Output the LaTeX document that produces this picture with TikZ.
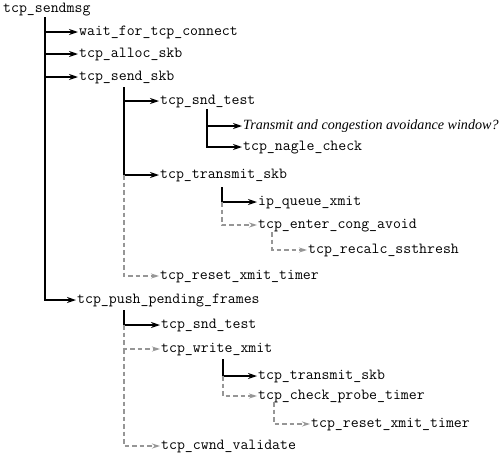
\documentclass[tikz,border=0pt]{standalone}
\usepackage{fontspec}
\newfontfamily\capfont{Liberation Serif}
\usetikzlibrary{arrows.meta}

\tikzset{
  fn/.style={anchor=west, inner sep=1pt, font=\fontsize{15.4}{16}\ttfamily, text height=8pt, text depth=2pt},
  note/.style={anchor=west, inner sep=1pt, font=\fontsize{14.1}{15}\capfont\itshape, text height=8pt, text depth=2pt},
  call/.style={draw=black, line width=1.4pt, -{Stealth[length=9pt,width=6pt]}},
  maycall/.style={draw={rgb,255:red,150;green,150;blue,150}, line width=1.2pt, dash pattern={on 4.5pt off 3pt}, -{Stealth[length=8pt,width=5pt]}},
}

\begin{document}
\begin{tikzpicture}[x=1pt,y=1pt,yscale=-1,xscale=1]
\useasboundingbox (0,0) rectangle (500,456);

% Text Node
\node[fn] (sendmsg) at (2,9) {tcp\_sendmsg};
\node[fn] (wait) at (78,32) {wait\_for\_tcp\_connect};
\node[fn] (alloc) at (78,54) {tcp\_alloc\_skb};
\node[fn] (sendskb) at (78,77) {tcp\_send\_skb};
\node[fn] (sndtest) at (159,101) {tcp\_snd\_test};
\node[note] (window) at (242,126) {Transmit and congestion avoidance window?};
\node[fn] (nagle) at (242,147) {tcp\_nagle\_check};
\node[fn] (xmitskb) at (159,175) {tcp\_transmit\_skb};
\node[fn] (ipqueue) at (257,202) {ip\_queue\_xmit};
\node[fn] (congavoid) at (257,225) {tcp\_enter\_cong\_avoid};
\node[fn] (ssthresh) at (307,250) {tcp\_recalc\_ssthresh};
\node[fn] (resettimer) at (159,276) {tcp\_reset\_xmit\_timer};
\node[fn] (pushpending) at (76,300) {tcp\_push\_pending\_frames};
\node[fn] (sndtestb) at (160,325) {tcp\_snd\_test};
\node[fn] (writexmit) at (160,349) {tcp\_write\_xmit};
\node[fn] (xmitskbb) at (257,376) {tcp\_transmit\_skb};
\node[fn] (probetimer) at (257,396) {tcp\_check\_probe\_timer};
\node[fn] (resettimerb) at (310,424) {tcp\_reset\_xmit\_timer};
\node[fn] (cwnd) at (160,446) {tcp\_cwnd\_validate};

% trunk tops
\coordinate (t1) at (45,17);
\coordinate (t2) at (124,87);
\coordinate (t3) at (207,109);
\coordinate (t4) at (222,187);
\coordinate (t5) at (272,232);
\coordinate (t6) at (124,310);
\coordinate (t7) at (223,359);
\coordinate (t8) at (274,402);

%Straight Lines: tcp_sendmsg
\draw[call] (t1) |- (wait.west);
\draw[call] (t1 |- wait.west) |- (alloc.west);
\draw[call] (t1 |- alloc.west) |- (sendskb.west);
\draw[call] (t1 |- sendskb.west) |- (pushpending.west);
%Straight Lines: tcp_send_skb
\draw[call] (t2) |- (sndtest.west);
\draw[call] (t2 |- sndtest.west) |- (xmitskb.west);
\draw[maycall] (t2 |- xmitskb.west) |- (resettimer.west);
%Straight Lines: tcp_snd_test
\draw[call] (t3) |- (window.west);
\draw[call] (t3 |- window.west) |- (nagle.west);
%Straight Lines: tcp_transmit_skb
\draw[call] (t4) |- (ipqueue.west);
\draw[maycall] (t4 |- ipqueue.west) |- (congavoid.west);
\draw[maycall] (t5) |- (ssthresh.west);
%Straight Lines: tcp_push_pending_frames
\draw[call] (t6) |- (sndtestb.west);
\draw[maycall] (t6 |- sndtestb.west) |- (writexmit.west);
\draw[maycall] (t6 |- writexmit.west) |- (cwnd.west);
%Straight Lines: tcp_write_xmit
\draw[call] (t7) |- (xmitskbb.west);
\draw[maycall] (t7 |- xmitskbb.west) |- (probetimer.west);
\draw[maycall] (t8) |- (resettimerb.west);

\end{tikzpicture}
\end{document}
